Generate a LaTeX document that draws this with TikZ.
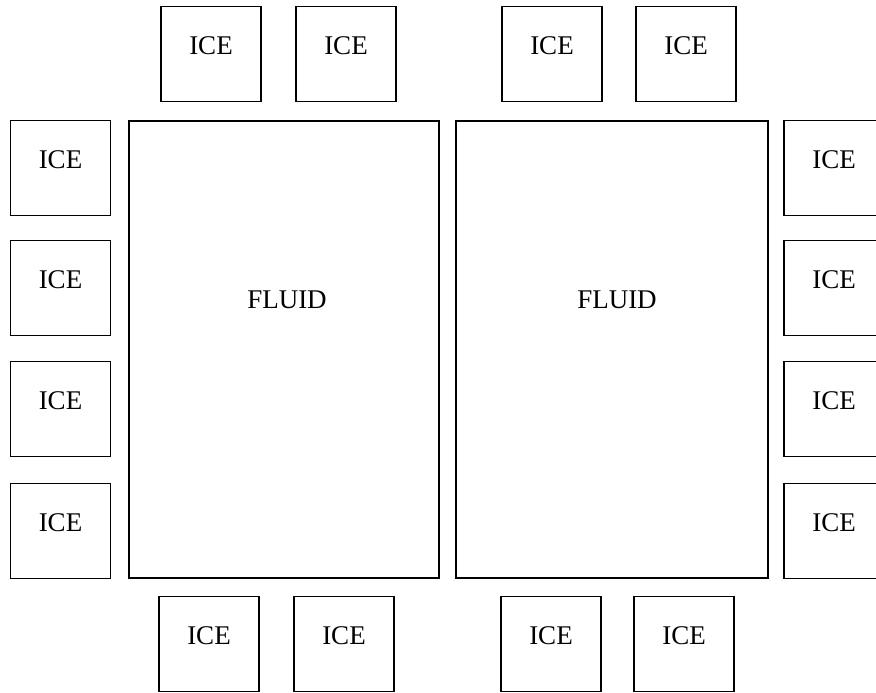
\documentclass[tikz,border=0pt]{standalone}
\usepackage{fontspec}
\setmainfont{Liberation Serif}
\usepackage{tikz}
\tikzset{
  ice/.style={rectangle,draw,minimum width=100pt,minimum height=95pt,inner sep=0pt,text depth=16pt,font=\fontsize{27}{30}\selectfont},
  fl/.style={rectangle,draw,minimum width=310pt,minimum height=457pt,inner sep=0pt,text depth=100pt,font=\fontsize{27}{30}\selectfont},
  every picture/.style={line width=1.9pt},
}
\begin{document}
\begin{tikzpicture}[x=1pt,y=-1pt]
\useasboundingbox (0,0) rectangle (876,693); \clip (0,0) rectangle (876,693);
\node[fl,text width=310pt,align=center,xshift=0pt] (F1) at (284,349.5){\hspace*{6pt}FLUID}; \node[fl,minimum width=312pt,text width=312pt,align=center] (F2) at (612,349.5){\hspace*{10pt}FLUID};
\node[ice] (T1) at (211,54){ICE}; \node[ice] (T2) at (346,54){ICE}; \node[ice] (T3) at (552,54){ICE}; \node[ice] (T4) at (686,54){ICE};
\node[ice] (B1) at (209,644){ICE}; \node[ice] (B2) at (344,644){ICE}; \node[ice] (B3) at (551,644){ICE}; \node[ice] (B4) at (684,644){ICE};
\node[ice] (L1) at (60.5,168){ICE}; \node[ice] (L2) at (60.5,288){ICE}; \node[ice] (L3) at (60.5,409){ICE}; \node[ice] (L4) at (60.5,531){ICE};
\node[ice] (R1) at (834,168){ICE}; \node[ice] (R2) at (834,288){ICE}; \node[ice] (R3) at (834,409){ICE}; \node[ice] (R4) at (834,531){ICE};
\end{tikzpicture}
\end{document}
